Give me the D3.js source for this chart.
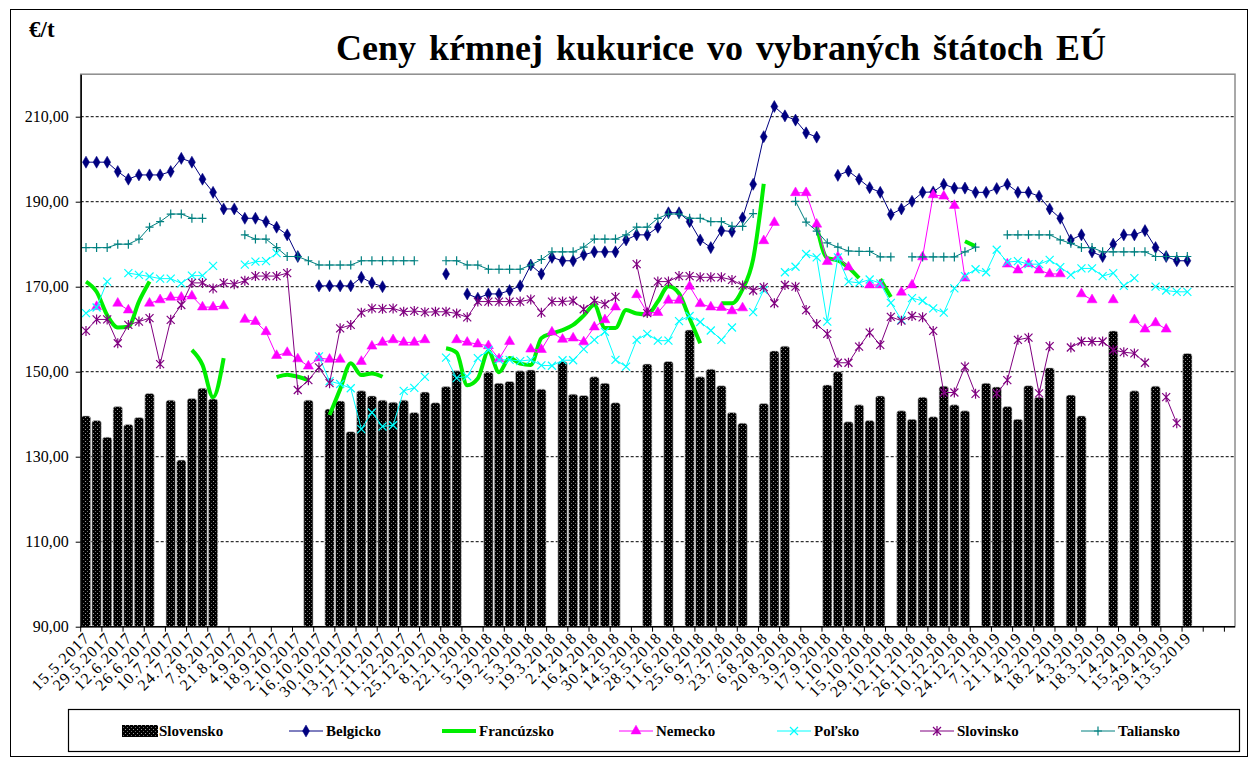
<!DOCTYPE html>
<html>
<head>
<meta charset="utf-8">
<script src="https://cdn.jsdelivr.net/npm/d3@7"></script>
<style>
  body { margin: 0; background: #fff; }
  text { font-family: "Liberation Serif", "Times New Roman", serif; }
</style>
</head>
<body>
<div class="svg-container"></div>
<script>
var n = null;

// x labels (every second week is labelled)
var tickLabels = ["15.5.2017","29.5.2017","12.6.2017","26.6.2017","10.7.2017","24.7.2017","7.8.2017","21.8.2017",
  "4.9.2017","18.9.2017","2.10.2017","16.10.2017","30.10.2017","13.11.2017","27.11.2017","11.12.2017","25.12.2017",
  "8.1.2018","22.1.2018","5.2.2018","19.2.2018","5.3.2018","19.3.2018","2.4.2018","16.4.2018","30.4.2018","14.5.2018",
  "28.5.2018","11.6.2018","25.6.2018","9.7.2018","23.7.2018","6.8.2018","20.8.2018","3.9.2018","17.9.2018","1.10.2018",
  "15.10.2018","29.10.2018","12.11.2018","26.11.2018","10.12.2018","24.12.2018","7.1.2019","21.1.2019","4.2.2019",
  "18.2.2019","4.3.2019","18.3.2019","1.4.2019","15.4.2019","29.4.2019","13.5.2019"];
var weekCount = 109;
var yTicks = [90, 110, 130, 150, 170, 190, 210];

// Slovensko (bars)
var slovensko = [139.6,138.5,134.6,141.8,137.6,139.2,144.9,n,143.3,129.2,143.7,146.1,143.6,n,n,n,n,n,n,n,
  n,143.3,n,141.2,143.1,135.9,145.5,144.3,143.3,142.8,143.3,140.4,145.2,142.7,146.5,150.2,n,n,149.9,147.3,
  147.7,150.2,150.4,145.9,n,152.4,144.7,144.4,148.8,147.3,142.7,n,n,151.8,n,152.4,n,159.8,148.8,150.6,
  146.7,140.4,137.9,n,142.5,154.9,156.0,n,n,n,146.9,150.0,138.2,142.2,138.5,144.3,n,140.8,138.8,144.0,
  139.4,146.6,142.2,140.8,n,147.3,146.4,141.8,138.8,146.7,144.0,150.9,n,144.5,139.6,n,n,159.6,n,145.5,
  n,146.6,n,n,154.3,n,n,n,n];

var belgicko = [199.3,199.3,199.3,197.1,195.3,196.3,196.3,196.3,197.1,200.2,199.3,195.3,192.2,188.3,188.3,186.1,186.1,185.3,184.0,182.2,
  177.1,n,170.2,170.2,170.2,170.2,172.2,170.9,170.0,n,n,n,n,n,173.0,n,168.3,167.3,168.3,168.3,
  169.1,170.2,175.1,173.0,176.9,176.1,176.1,177.5,178.2,178.2,178.2,181.0,182.2,182.2,184.0,187.4,187.4,185.3,181.0,179.2,
  183.2,183.0,186.2,194.1,205.3,212.4,210.2,209.2,206.2,205.2,n,196.2,197.2,195.3,193.3,192.2,187.0,188.3,190.1,192.2,
  192.3,194.1,193.2,193.2,192.2,192.2,193.1,194.1,192.2,192.2,191.3,188.3,186.1,181.0,182.2,178.2,177.1,180.0,182.2,182.2,
  183.2,179.2,177.1,176.1,176.1,n,n,n,n];

var francuzsko = [171.2,168.8,163.3,160.4,160.6,166.5,171.2,n,n,n,155.1,151.6,144.0,153.2,n,n,n,n,148.7,149.3,
  148.8,148.0,n,139.8,145.9,152.0,149.2,149.6,148.8,n,n,n,n,n,155.5,154.5,146.8,148.4,154.8,149.9,
  153.2,151.9,151.6,157.9,159.0,159.8,161.0,163.2,165.7,160.3,160.3,164.5,163.7,163.5,166.5,170.1,168.4,162.5,156.7,n,
  166.1,166.1,169.4,176.5,194.2,n,n,n,n,184.3,176.7,176.2,174.5,172.0,n,171.8,167.6,n,n,n,
  n,n,n,180.7,179.5,n,n,n,n,n,n,n,n,n,n,n,n,n,n,n,
  n,n,n,n,n,n,n,n,n];

var nemecko = [n,165.3,n,166.1,164.5,n,166.1,166.9,167.5,167.5,167.8,165.2,165.2,165.5,n,162.3,161.8,159.4,153.8,154.5,
  153.0,151.3,153.2,152.9,152.9,n,152.4,156.0,156.9,157.5,156.9,156.9,157.5,n,n,157.5,156.9,156.5,156.1,153.0,
  157.1,n,155.3,155.2,159.3,157.6,157.9,157.0,160.5,162.2,165.2,n,168.1,163.9,163.9,166.8,166.8,170.1,166.0,165.2,
  165.1,164.3,165.0,n,180.8,185.1,n,192.1,192.1,184.7,175.9,177.0,174.6,n,170.4,170.4,n,168.7,170.4,177.0,
  191.6,191.3,189.1,172.0,n,n,n,175.3,173.9,175.4,173.9,173.0,173.0,n,168.3,166.9,n,166.9,n,162.2,
  160.0,161.5,160.0,n,n,n,n,n,n];

var polsko = [163.8,165.1,171.2,n,173.2,172.8,172.4,171.9,171.9,170.8,172.6,172.6,174.9,n,n,175.2,175.9,176.0,177.9,n,
  n,n,153.6,147.8,147.1,146.1,136.5,140.4,137.1,137.4,145.5,146.2,148.8,n,153.3,148.5,148.9,153.2,155.1,152.8,
  152.8,152.5,152.8,151.5,151.4,152.7,152.7,155.3,157.5,159.4,152.8,151.2,157.5,158.9,157.3,157.3,161.9,163.1,161.7,159.7,
  157.5,160.4,n,164.0,169.2,n,173.4,174.7,177.7,176.9,161.8,176.9,171.2,170.9,171.7,170.8,166.2,162.2,167.3,166.7,
  164.9,163.9,169.6,172.5,174.1,173.4,178.7,175.8,176.0,175.3,175.3,176.3,174.6,172.8,174.3,174.3,172.5,173.2,170.2,172.0,
  n,170.0,169.1,168.8,168.8,n,n,n,n];

var slovinsko = [159.6,162.3,162.3,156.7,161.0,161.8,162.6,151.8,162.2,165.7,170.9,170.9,169.6,170.9,170.6,171.4,172.5,172.5,172.5,173.2,
  145.7,148.0,151.0,147.3,160.2,161.0,163.9,164.9,164.8,164.9,164.1,164.3,164.0,164.1,164.1,163.7,162.8,166.5,166.5,166.5,
  166.5,166.5,167.0,163.9,166.5,166.5,166.7,164.7,166.7,165.9,167.6,n,175.3,163.8,171.2,171.2,172.5,172.5,172.2,172.2,
  172.2,171.6,170.3,169.1,169.9,166.1,170.4,170.0,164.5,161.2,158.9,152.1,152.1,155.9,159.2,156.3,162.9,162.0,163.1,162.8,
  159.6,145.1,145.1,151.2,144.8,n,144.9,148.0,157.5,158.0,144.9,156.0,n,155.7,157.1,157.1,157.1,155.1,154.6,154.3,
  152.1,n,144.0,137.9,n,n,n,n,n];

var taliansko = [179.2,179.2,179.2,180.0,180.0,181.2,184.0,185.3,187.1,187.1,186.1,186.1,n,n,n,182.2,181.2,181.2,179.2,177.1,
  177.1,176.1,175.1,175.1,175.1,175.1,176.1,176.1,176.1,176.1,176.1,176.1,n,n,176.1,176.1,175.1,175.1,174.1,174.1,
  174.1,174.1,175.1,176.4,178.2,178.2,178.2,179.3,181.2,181.2,181.2,182.2,184.0,184.0,186.1,187.1,187.1,186.1,186.1,185.3,
  185.3,184.2,184.2,187.2,n,n,n,190.1,185.2,183.1,180.3,179.3,178.4,178.3,178.3,177.0,177.0,n,177.0,177.0,
  177.0,177.0,177.0,178.2,179.3,n,n,182.2,182.2,182.2,182.2,182.2,181.0,180.2,179.2,179.2,178.2,178.2,178.2,178.2,
  178.2,177.1,177.1,177.1,177.1,n,n,n,n];

var width = 1255, height = 762;
var plot = { left: 80.7, right: 1235, top: 74.2, bottom: 626.7 };

var svg = d3.select(".svg-container")
  .append("svg")
  .attr("width", width)
  .attr("height", height);

// outer chart frame
svg.append("rect")
  .attr("x", 10.5).attr("y", 9.5)
  .attr("width", 1237).attr("height", 747)
  .attr("fill", "#fff").attr("stroke", "#000").attr("stroke-width", 1);

// dotted pattern of the Slovensko bars
var defs = svg.append("defs");
var pat = defs.append("pattern")
  .attr("id", "dots")
  .attr("patternUnits", "userSpaceOnUse")
  .attr("width", 4).attr("height", 4);
pat.append("rect").attr("width", 4).attr("height", 4).attr("fill", "#000");
pat.append("rect").attr("x", 1).attr("y", 1).attr("width", 1).attr("height", 1).attr("fill", "#9a9a9a");
pat.append("rect").attr("x", 3).attr("y", 3).attr("width", 1).attr("height", 1).attr("fill", "#6a6a6a");

// scales
var idx = d3.range(weekCount);
var x = d3.scaleBand().domain(idx).range([plot.left, plot.right]);
var y = d3.scaleLinear().domain([90, 220]).range([plot.bottom, plot.top]);
var step = x.bandwidth();
var cx = function(i) { return x(i) + step / 2; };

// plot box (grey top / right edge)
svg.append("rect")
  .attr("x", plot.left).attr("y", plot.top)
  .attr("width", plot.right - plot.left).attr("height", plot.bottom - plot.top)
  .attr("fill", "none").attr("stroke", "#8c8c8c").attr("stroke-width", 1.5);

// dashed gridlines
svg.append("g")
  .selectAll("line")
  .data(yTicks.slice(1))
  .enter().append("line")
  .attr("x1", plot.left).attr("x2", plot.right)
  .attr("y1", function(d) { return y(d); })
  .attr("y2", function(d) { return y(d); })
  .attr("stroke", "#000").attr("stroke-width", 1)
  .attr("stroke-dasharray", "3,2");

// bars
svg.append("g")
  .selectAll("rect")
  .data(idx.filter(function(i) { return slovensko[i] != null; }))
  .enter().append("rect")
  .attr("x", function(i) { return x(i) + step * 0.06; })
  .attr("width", step * 0.88)
  .attr("y", function(i) { return y(slovensko[i]); })
  .attr("height", function(i) { return y(90) - y(slovensko[i]); })
  .attr("rx", 2.5)
  .attr("fill", "url(#dots)")
  .attr("stroke", "#c8c8c8").attr("stroke-width", 0.6);

// marker shapes
var markers = {
  diamond: d3.symbol().type(d3.symbolDiamond).size(42)(),
  triangle: d3.symbol().type(d3.symbolTriangle).size(44)(),
  cross: "M-4,-4L4,4M-4,4L4,-4",
  star: "M-4,-4L4,4M-4,4L4,-4M0,-5L0,5",
  plus: "M-4,0L4,0M0,-4.5L0,4.5"
};

var series = [
  { name: "Belgicko", values: belgicko, color: "#000080", width: 1, marker: "diamond", fill: true },
  { name: "Francúzsko", values: francuzsko, color: "#00ee00", width: 4, marker: null },
  { name: "Nemecko", values: nemecko, color: "#ff00ff", width: 1, marker: "triangle", fill: true },
  { name: "Poľsko", values: polsko, color: "#00ffff", width: 1, marker: "cross" },
  { name: "Slovinsko", values: slovinsko, color: "#800080", width: 1, marker: "star" },
  { name: "Taliansko", values: taliansko, color: "#008080", width: 1, marker: "plus" }
];

var line = d3.line()
  .defined(function(d) { return d != null; })
  .x(function(d, i) { return cx(i); })
  .y(function(d) { return y(d); });

series.forEach(function(s) {
  var g = svg.append("g");
  g.append("path")
    .datum(s.values)
    .attr("fill", "none")
    .attr("stroke", s.color)
    .attr("stroke-width", s.width)
    .attr("stroke-linejoin", "round")
    .attr("d", s.marker ? line.curve(d3.curveLinear)(s.values) : line.curve(d3.curveMonotoneX)(s.values));
  if (s.marker) {
    g.selectAll(".m")
      .data(idx.filter(function(i) { return s.values[i] != null; }))
      .enter().append("path")
      .attr("transform", function(i) { return "translate(" + cx(i) + "," + y(s.values[i]) + ")"; })
      .attr("d", markers[s.marker])
      .attr("fill", s.fill ? s.color : "none")
      .attr("stroke", s.color)
      .attr("stroke-width", s.fill ? 0.5 : 1.2);
  }
});

// y axis
var fmt = function(d) { return d3.format(".2f")(d).replace(".", ","); };
var yAxis = svg.append("g")
  .attr("transform", "translate(" + plot.left + ",0)")
  .call(d3.axisLeft(y).tickValues(yTicks).tickFormat(fmt).tickSize(5).tickSizeOuter(0));
yAxis.attr("font-family", null);
yAxis.select(".domain").attr("stroke", "#000").attr("stroke-width", 1.5);
yAxis.selectAll("text").attr("font-size", 16).attr("fill", "#000").attr("x", -12);

// x axis baseline and tick marks (every second week)
svg.append("line")
  .attr("x1", plot.left).attr("x2", plot.right)
  .attr("y1", plot.bottom).attr("y2", plot.bottom)
  .attr("stroke", "#000").attr("stroke-width", 1.5);
svg.append("g")
  .selectAll("line")
  .data(idx.filter(function(i) { return i % 2 === 0; }))
  .enter().append("line")
  .attr("x1", function(i) { return x(i); })
  .attr("x2", function(i) { return x(i); })
  .attr("y1", plot.bottom).attr("y2", plot.bottom + 5)
  .attr("stroke", "#000");

// x labels
svg.append("g")
  .selectAll("text")
  .data(tickLabels)
  .enter().append("text")
  .attr("transform", function(d, k) {
    return "translate(" + (cx(k * 2) + 5) + "," + (plot.bottom + 12) + ") rotate(-45)";
  })
  .attr("text-anchor", "end")
  .attr("font-size", 16)
  .attr("letter-spacing", 1.2)
  .text(function(d) { return d; });

// title and unit
svg.append("text")
  .attr("x", 721).attr("y", 60)
  .attr("text-anchor", "middle")
  .attr("font-size", 36).attr("font-weight", "bold")
  .attr("word-spacing", 4)
  .text("Ceny kŕmnej kukurice vo vybraných štátoch EÚ");

svg.append("text")
  .attr("x", 29).attr("y", 37)
  .attr("font-size", 23).attr("font-weight", "bold")
  .text("€/t");

// legend
var legend = svg.append("g");
legend.append("rect")
  .attr("x", 68.5).attr("y", 709.5).attr("width", 1171).attr("height", 42)
  .attr("fill", "#fff").attr("stroke", "#000").attr("stroke-width", 1.2);

var ly = 731;
legend.append("rect")
  .attr("x", 122).attr("y", ly - 6).attr("width", 36).attr("height", 12)
  .attr("fill", "url(#dots)");
legend.append("text")
  .attr("x", 159).attr("y", ly + 5)
  .attr("font-size", 15).attr("font-weight", "bold")
  .text("Slovensko");

var legendX = [289, 442, 619, 777, 920, 1081];
series.forEach(function(s, k) {
  var lx = legendX[k];
  legend.append("line")
    .attr("x1", lx).attr("x2", lx + 34)
    .attr("y1", ly).attr("y2", ly)
    .attr("stroke", s.color).attr("stroke-width", s.width);
  if (s.marker) {
    legend.append("path")
      .attr("transform", "translate(" + (lx + 17) + "," + ly + ")")
      .attr("d", markers[s.marker])
      .attr("fill", s.fill ? s.color : "none")
      .attr("stroke", s.color)
      .attr("stroke-width", s.fill ? 0.5 : 1.2);
  }
  legend.append("text")
    .attr("x", lx + 37).attr("y", ly + 5)
    .attr("font-size", 15).attr("font-weight", "bold")
    .text(s.name);
});
</script>
</body>
</html>
